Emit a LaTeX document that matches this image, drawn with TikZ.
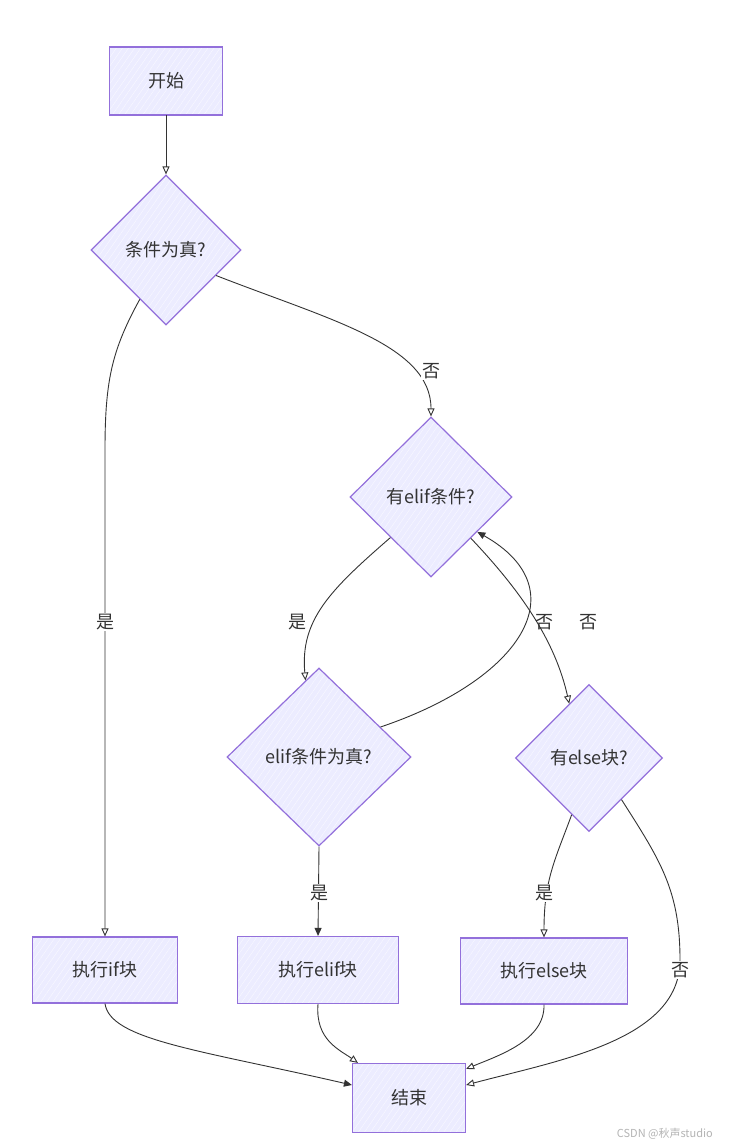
\documentclass[tikz,border=0pt]{standalone}
\usepackage{fontspec}
\setmainfont{Noto Sans CJK SC}
\usetikzlibrary{shapes.geometric,arrows.meta,patterns.meta}
\definecolor{nfill}{HTML}{ECECFF}
\definecolor{nline}{HTML}{9370DB}
\definecolor{tcol}{HTML}{333333}
\definecolor{wm}{HTML}{B4B4B4}
\tikzset{
  nodebase/.style={draw=nline, line width=1.2pt, preaction={fill=nfill},
    pattern={Lines[angle=55,distance=5pt,line width=0.5pt]}, pattern color=white!60!nfill,
    inner sep=0pt, text=tcol, font=\fontsize{18}{21}\selectfont},
  box/.style={nodebase, rectangle},
  dia/.style={nodebase, diamond, aspect=1},
  conn/.style={draw=tcol, line width=0.9pt},
  oarr/.style={-{Triangle[open,length=8pt,width=7pt]}},
  farr/.style={-{Triangle[length=8pt,width=7pt]}},
  lbl/.style={fill=white, inner sep=1pt, text=tcol, font=\fontsize{18}{21}\selectfont}
}
\begin{document}
\begin{tikzpicture}[x=1pt,y=-1pt]
\useasboundingbox (0,0) rectangle (728,1147);
\fill[white] (0,0) rectangle (728,1147);

\node[box, minimum width=113pt, minimum height=68pt] (start) at (166,81) {开始};
\node[dia, minimum width=150pt, minimum height=150pt] (c1) at (166,250) {条件为真?};
\node[dia, minimum width=162pt, minimum height=160pt] (e1) at (431,497) {有elif条件?};
\node[dia, minimum width=184pt, minimum height=178pt] (e2) at (319,757) {elif条件为真?};
\node[dia, minimum width=147pt, minimum height=147pt] (el) at (589,758) {有else块?};
\node[box, minimum width=145pt, minimum height=66pt] (ifb) at (105,970) {执行if块};
\node[box, minimum width=161pt, minimum height=67pt] (eb) at (318,970) {执行elif块};
\node[box, minimum width=167pt, minimum height=66pt] (elb) at (544,971) {执行else块};
\node[box, minimum width=113pt, minimum height=69pt] (end) at (409,1098) {结束};

% connectors
\draw[conn,oarr] (start.south) -- (c1.north);

\draw[conn,oarr] (c1.-118) .. controls (112,350) and (105,380) .. (105,450) -- (ifb.north);
\node[lbl] (l0) at (105,622) {是};

\draw[conn,oarr] (c1.-27) .. controls (330,320) and (431,345) .. (e1.north);
\node[lbl] (l1) at (431,371) {否};

\draw[conn,oarr] (e1.-135) .. controls (330,590) and (300,620) .. (e2.100);
\node[lbl] (l2) at (297,622) {是};

\draw[conn,farr] (e2.26) .. controls (520,680) and (580,590) .. (e1.-37);
\node[lbl] (l3) at (544,622) {否};

\draw[conn,oarr] (e1.-46) .. controls (520,590) and (555,640) .. (el.110);
\node[lbl] (l4) at (588,622) {否};

\draw[conn,farr] (e2.south) -- (eb.north);
\node[lbl] (l7) at (319,893) {是};

\draw[conn,oarr] (el.-107) .. controls (555,860) and (544,880) .. (elb.north);
\node[lbl] (l5) at (544,893) {是};

\draw[conn,oarr] (el.-52) .. controls (660,860) and (680,890) .. (680,960)
  .. controls (680,1040) and (560,1060) .. ([yshift=13pt]end.east);
\node[lbl] (l6) at (680,970) {否};

\draw[conn,farr] (ifb.south) .. controls (110,1040) and (200,1050) .. ([yshift=13pt]end.west);
\draw[conn,oarr] (eb.south) .. controls (315,1040) and (340,1050) .. ([xshift=6pt]end.north west);
\draw[conn,oarr] (elb.south) .. controls (545,1040) and (500,1055) .. ([yshift=-6pt]end.north east);

\node[text=wm, font=\fontsize{11}{13}\selectfont, anchor=east, inner sep=0pt] (wmk) at (713,1134) {CSDN @秋声studio};
\end{tikzpicture}
\end{document}
